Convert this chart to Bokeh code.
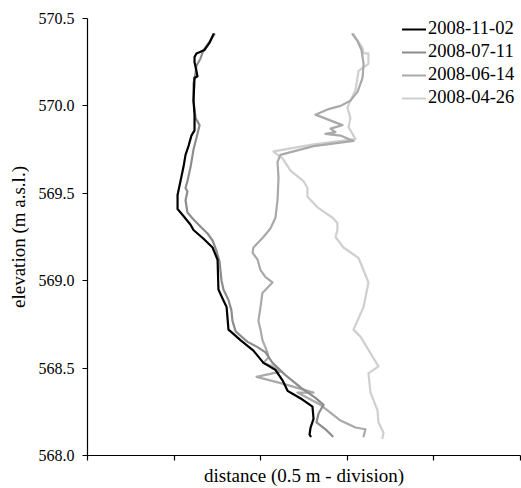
from bokeh.plotting import figure
from bokeh.models import (Legend, LegendItem, Range1d, FixedTicker,
                          NumeralTickFormatter, CustomJSTickFormatter)
from bokeh.embed import file_html
from bokeh.resources import INLINE

# ---- data (distance in m, elevation in m a.s.l.) ----
series_labels = ["2008-11-02", "2008-07-11", "2008-06-14", "2008-04-26"]
series_colors = ["#000000", "#8c8c8c", "#a9a9a9", "#cfcfcf"]
x_title = "distance (0.5 m - division)"
y_title = "elevation (m a.s.l.)"

dist_20081102 = [0.727, 0.704, 0.676, 0.629, 0.618, 0.618, 0.629, 0.635, 0.618, 0.612,
                 0.618, 0.618, 0.600, 0.583, 0.566, 0.554, 0.537, 0.520, 0.520, 0.554,
                 0.595, 0.612, 0.670, 0.722, 0.751, 0.756, 0.779, 0.803, 0.814, 0.826,
                 0.883, 0.958, 1.016, 1.085, 1.126, 1.155, 1.189, 1.241, 1.299, 1.305,
                 1.288, 1.282, 1.288]
elev_20081102 = [570.41, 570.36, 570.32, 570.30, 570.28, 570.25, 570.20, 570.17, 570.16, 570.03,
                 569.95, 569.86, 569.83, 569.77, 569.72, 569.65, 569.57, 569.49, 569.41, 569.37,
                 569.32, 569.29, 569.24, 569.19, 569.12, 568.95, 568.90, 568.85, 568.72, 568.71,
                 568.66, 568.60, 568.53, 568.49, 568.43, 568.37, 568.35, 568.32, 568.28, 568.21,
                 568.16, 568.12, 568.11]

dist_20080711 = [0.733, 0.693, 0.670, 0.652, 0.629, 0.624, 0.612, 0.612, 0.624, 0.647,
                 0.635, 0.612, 0.595, 0.577, 0.566, 0.577, 0.566, 0.577, 0.612, 0.652,
                 0.693, 0.722, 0.745, 0.762, 0.774, 0.785, 0.814, 0.831, 0.837, 0.855,
                 0.924, 0.982, 1.028, 1.068, 1.143, 1.230, 1.316, 1.363, 1.334, 1.322,
                 1.374, 1.415]
elev_20080711 = [570.41, 570.35, 570.32, 570.27, 570.23, 570.19, 570.13, 570.03, 569.93, 569.89,
                 569.84, 569.75, 569.65, 569.57, 569.53, 569.51, 569.46, 569.39, 569.35, 569.31,
                 569.27, 569.23, 569.17, 569.11, 569.00, 568.95, 568.89, 568.83, 568.77, 568.71,
                 568.65, 568.62, 568.59, 568.53, 568.46, 568.39, 568.33, 568.29, 568.24, 568.19,
                 568.15, 568.11]

dist_20080614 = [1.530, 1.559, 1.582, 1.594, 1.588, 1.559, 1.518, 1.461, 1.386, 1.316,
                 1.472, 1.403, 1.432, 1.374, 1.461, 1.507, 1.536, 1.305, 1.114, 1.097,
                 1.103, 1.097, 1.085, 1.057, 1.016, 0.958, 0.953, 0.982, 0.999, 1.028,
                 1.068, 1.039, 1.010, 0.999, 0.987, 0.999, 1.010, 1.039, 1.045, 1.016,
                 1.068, 1.114, 0.976, 1.132, 1.305, 1.212, 1.345, 1.461, 1.547, 1.605,
                 1.594]
elev_20080614 = [570.41, 570.37, 570.32, 570.24, 570.16, 570.08, 570.03, 570.00, 569.98, 569.95,
                 569.89, 569.87, 569.85, 569.84, 569.83, 569.81, 569.80, 569.77, 569.72, 569.68,
                 569.59, 569.46, 569.36, 569.30, 569.25, 569.19, 569.16, 569.12, 569.06, 569.02,
                 568.99, 568.96, 568.93, 568.85, 568.77, 568.72, 568.66, 568.59, 568.56, 568.53,
                 568.51, 568.48, 568.45, 568.41, 568.36, 568.36, 568.29, 568.20, 568.16, 568.15,
                 568.11]

dist_20080426 = [1.536, 1.588, 1.594, 1.622, 1.622, 1.594, 1.565, 1.547, 1.518, 1.501,
                 1.518, 1.507, 1.547, 1.305, 1.074, 1.085, 1.126, 1.172, 1.247, 1.270,
                 1.270, 1.328, 1.415, 1.443, 1.443, 1.432, 1.478, 1.565, 1.594, 1.622,
                 1.594, 1.536, 1.576, 1.680, 1.622, 1.634, 1.674, 1.680, 1.709, 1.703]
elev_20080426 = [570.41, 570.33, 570.30, 570.30, 570.24, 570.22, 570.20, 570.09, 570.03, 569.99,
                 569.93, 569.88, 569.81, 569.78, 569.74, 569.73, 569.70, 569.63, 569.57, 569.53,
                 569.48, 569.42, 569.36, 569.33, 569.29, 569.25, 569.19, 569.13, 569.06, 568.99,
                 568.85, 568.72, 568.68, 568.51, 568.47, 568.36, 568.26, 568.19, 568.13, 568.10]

x_ticks = [0.0, 0.5, 1.0, 1.5, 2.0, 2.5]
y_ticks = [568.0, 568.5, 569.0, 569.5, 570.0, 570.5]

series_x = [dist_20081102, dist_20080711, dist_20080614, dist_20080426]
series_y = [elev_20081102, elev_20080711, elev_20080614, elev_20080426]

FONT = "Liberation Serif"

p = figure(width=521, height=488, output_backend="svg", toolbar_location=None,
           x_range=Range1d(0, 2.5), y_range=Range1d(568.0, 570.5),
           min_border_left=87, min_border_right=1, min_border_top=18, min_border_bottom=32)
p.outline_line_color = None
p.grid.visible = False
p.background_fill_color = "white"
p.border_fill_color = "white"

renderers = {}
for i in [3, 2, 1, 0]:
    r = p.line(series_x[i], series_y[i], line_color=series_colors[i], line_width=2.2,
               line_join="round", line_cap="round")
    renderers[i] = r

# axes
p.yaxis.ticker = FixedTicker(ticks=y_ticks)
p.yaxis.formatter = NumeralTickFormatter(format="0.0")
p.xaxis.ticker = FixedTicker(ticks=x_ticks)
p.xaxis.formatter = CustomJSTickFormatter(code="return ''")
for ax in (p.xaxis[0], p.yaxis[0]):
    ax.axis_line_color = "black"
    ax.axis_line_width = 1.2
    ax.major_tick_line_color = "black"
    ax.major_tick_line_width = 1.2
    ax.major_tick_in = 0
    ax.major_tick_out = 5
    ax.minor_tick_line_color = None
    ax.major_label_text_font = FONT
    ax.major_label_text_font_size = "16px"
    ax.major_label_text_color = "black"
    ax.axis_label_text_font = FONT
    ax.axis_label_text_font_size = "19px"
    ax.axis_label_text_font_style = "normal"
    ax.axis_label_text_color = "black"

p.yaxis.axis_label = y_title
p.yaxis.major_label_standoff = 8
p.yaxis.axis_label_standoff = 7
p.xaxis.axis_label = x_title
p.xaxis.major_label_standoff = 0
p.xaxis.major_label_text_font_size = "0px"
p.xaxis.axis_label_standoff = 4

legend = Legend(items=[LegendItem(label=series_labels[i], renderers=[renderers[i]]) for i in range(4)],
                location=(315, 347), orientation="vertical",
                label_text_font=FONT, label_text_font_size="18.5px", label_text_color="black",
                glyph_width=24, glyph_height=18, label_height=18, label_standoff=2,
                spacing=2, padding=0, margin=0,
                border_line_color=None, background_fill_alpha=0)
p.add_layout(legend, "center")

open("out.html", "w").write(file_html(p, INLINE))
